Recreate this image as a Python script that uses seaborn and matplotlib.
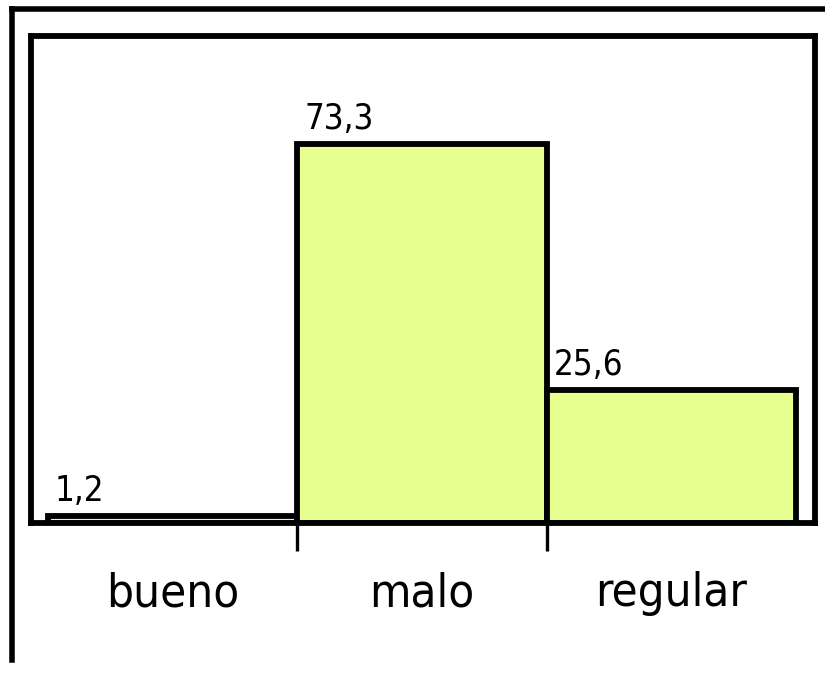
import matplotlib
matplotlib.use("Agg")
import matplotlib.pyplot as plt
import seaborn as sns
import pandas as pd
from matplotlib.lines import Line2D
from matplotlib import font_manager

# datos
categorias = ["bueno", "malo", "regular"]
porcentajes = [1.2, 73.3, 25.6]
etiquetas = ["1,2", "73,3", "25,6"]

df = pd.DataFrame({"cat": categorias, "pct": porcentajes})

sns.set_style("white")
# buscar una fuente estrecha si existe
nombres = {f.name for f in font_manager.fontManager.ttflist}
narrow = [n for n in ["Liberation Sans Narrow", "DejaVu Sans Condensed"] if n in nombres]
plt.rcParams['font.family'] = narrow + ['DejaVu Sans']
plt.rcParams['font.stretch'] = 'condensed'
plt.rcParams['text.color'] = 'black'
plt.rcParams['xtick.color'] = 'black'

fig = plt.figure(figsize=(8.25, 6.73), dpi=100)
ax = fig.add_axes([0.0376, 0.2236, 0.9504, 0.7234])

sns.barplot(data=df, x="cat", y="pct", color="#E6FF8F", saturation=1,
            edgecolor="black", linewidth=4.2, width=1.0, ax=ax)

# etiquetas de valor arriba a la izquierda de cada barra
for p, txt in zip(ax.patches, etiquetas):
    ax.annotate(txt, (p.get_x(), p.get_height()), xytext=(5, 6),
                textcoords="offset points", ha="left", va="bottom",
                fontsize=25, color="black", fontstretch="condensed")

ax.set_xlim(-0.568, 2.576)
ax.set_ylim(0, 94.4)
ax.set_xlabel("")
ax.set_ylabel("")
ax.set_yticks([])

# nombres en el centro, marcas entre categorias
ax.set_xticks([0, 1, 2])
ax.set_xticklabels(categorias, fontsize=34, color="black", fontstretch="condensed")
ax.tick_params(axis="x", which="major", length=0, pad=35)
ax.set_xticks([0.5, 1.5], minor=True)
ax.tick_params(axis="x", which="minor", bottom=True, length=20, width=2.4,
               direction="out", color="black")

for s in ax.spines.values():
    s.set_visible(True)
    s.set_color("black")
    s.set_linewidth(4.2)

# marco exterior (recortado: solo arriba e izquierda)
fig.add_artist(Line2D([0.0145, 1.0], [0.986, 0.986], color="black", lw=4,
                      transform=fig.transFigure, solid_capstyle="projecting"))
fig.add_artist(Line2D([0.0145, 0.0145], [0.986, 0.019], color="black", lw=4,
                      transform=fig.transFigure, solid_capstyle="projecting"))

fig.savefig("out.png", dpi=100)
